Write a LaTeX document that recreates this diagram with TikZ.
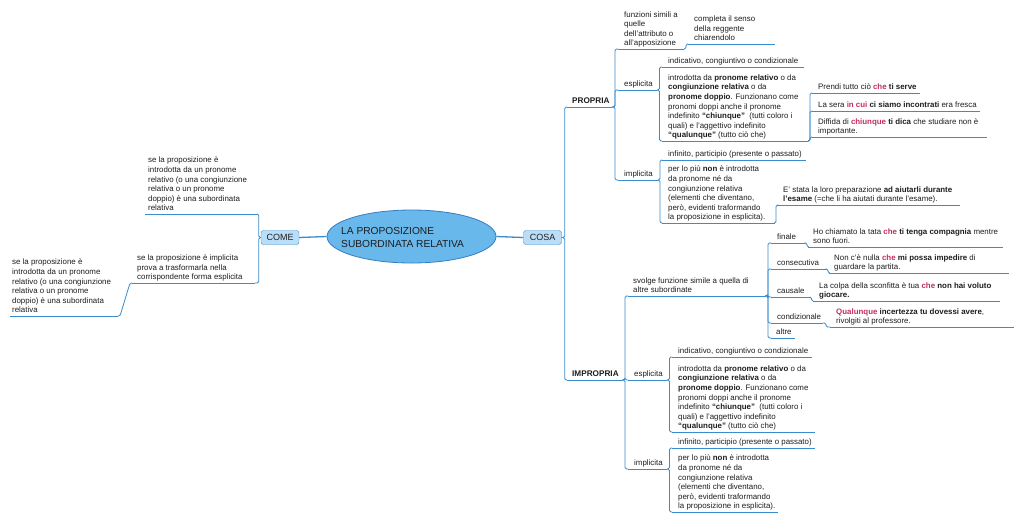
\documentclass[tikz,border=0pt]{standalone}
\usepackage{fontspec}
\setmainfont{Liberation Sans}
\usetikzlibrary{shapes.geometric,calc}
\definecolor{lnk}{RGB}{58,140,205}
\definecolor{hl}{RGB}{196,45,95}
\definecolor{ink}{RGB}{30,30,30}
\definecolor{ellfill}{RGB}{104,184,236}
\definecolor{ellline}{RGB}{55,125,195}
\definecolor{boxfill}{RGB}{186,222,247}
\newcommand\tf{\fontsize{7.9}{9.6}\selectfont}
\newcommand\tfb{\fontsize{8.2}{9.6}\selectfont\bfseries}
\newcommand\rd[1]{\textcolor{hl}{\textbf{#1}}}
\begin{document}
\begin{tikzpicture}[x=1pt,y=-1pt,
  uline/.style={draw=lnk, line width=0.8pt},
  topic/.style={anchor=south west, inner xsep=6pt, inner ysep=0pt, align=left,
    font=\tf, text=ink, execute at end node=\strut,
    append after command={(\tikzlastnode.south west) edge[uline] ($(\tikzlastnode.south west)+(#1,0)$)}},
  conn/.style={draw=lnk, line width=0.8pt, rounded corners=1.5pt},
  catbox/.style={draw=lnk, fill=boxfill, rounded corners=2.5pt, minimum width=38pt,
    minimum height=14pt, inner sep=0pt, font=\fontsize{9}{11}\selectfont, text=ink},
]
\useasboundingbox[fill=white] (0,0) rectangle (1024,523);

% centre
\node[ellipse, draw=ellline, fill=ellfill, line width=0.8pt, minimum width=169pt,
  minimum height=53pt, inner sep=0pt] (center) at (411.5,236.5) {};
\node[anchor=west, align=left, font=\fontsize{10.2}{12.5}\selectfont, text=ink, inner sep=0pt]
  (ctitle) at (341,237.5) {LA PROPOSIZIONE\\SUBORDINATA RELATIVA};
\node[catbox] (come) at (280,237.5) {COME};
\node[catbox] (cosa) at (542.5,237.5) {COSA};
\draw[draw=lnk, line width=1.3pt] (center.west) -- (come.east);
\draw[draw=lnk, line width=1.3pt] (center.east) -- (cosa.west);

% COME side
\node[topic=112,inner xsep=3pt] (c1) at (145,214) {se la proposizione è\\introdotta da un pronome\\relativo (o una congiunzione\\relativa o un pronome\\doppio) è una subordinata\\relativa};
\node[topic=123,inner xsep=5pt] (c2) at (132,283) {se la proposizione è implicita\\prova a trasformarla nella\\corrispondente forma esplicita};
\node[topic=108,inner xsep=2pt] (c3) at (10,316) {se la proposizione è\\introdotta da un pronome\\relativo (o una congiunzione\\relativa o un pronome\\doppio) è una subordinata\\relativa};
\coordinate (c1end) at ($(c1.south west)+(112,0)$);
\coordinate (c2end) at ($(c2.south west)+(123,0)$);
\coordinate (c3end) at ($(c3.south west)+(108,0)$);
\draw[conn] (come.west) -- ++(-2,0) |- (c1end);
\draw[conn] (come.west) -- ++(-2,0) |- (c2end);
\draw[conn] (c2.south west) -- ++(-2,0) -- ([xshift=2pt]c3end) -- (c3end);

% PROPRIA
\node[topic=45,inner xsep=5pt,font=\tfb] (propria) at (567,107) {PROPRIA};
\coordinate (propriaend) at (612,107);
\node[topic=66] (p1) at (618,49) {funzioni simili a\\quelle\\dell’attributo o\\all’apposizione};
\coordinate (p1end) at (684,49);
\node[topic=87] (p1a) at (688,44) {completa il senso\\della reggente\\chiarendolo};
\node[topic=39] (p2) at (618,90) {esplicita};
\coordinate (p2end) at (657,90);
\node[topic=142] (p2a) at (662,67) {indicativo, congiuntivo o condizionale};
\node[topic=146] (p2b) at (662,141) {introdotta da \textbf{pronome relativo} o da\\\textbf{congiunzione relativa} o da\\\textbf{pronome doppio}. Funzionano come\\pronomi doppi anche il pronome\\indefinito \textbf{“chiunque”}~~(tutti coloro i\\quali) e l’aggettivo indefinito\\\textbf{“qualunque”} (tutto ciò che)};
\coordinate (p2bend) at (808,141);
\node[topic=108] (p2b1) at (812,93) {Prendi tutto ciò \rd{che} \textbf{ti serve}};
\node[topic=168] (p2b2) at (812,111) {La sera \rd{in cui} \textbf{ci siamo incontrati} era fresca};
\node[topic=175] (p2b3) at (812,137) {Diffida di \rd{chiunque} \textbf{ti dica} che studiare non è\\importante.};
\node[topic=40] (p3) at (618,180) {implicita};
\coordinate (p3end) at (658,180);
\node[topic=144] (p3a) at (662,160) {infinito, participio (presente o passato)};
\node[topic=113] (p3b) at (662,223) {per lo più \textbf{non} è introdotta\\da pronome né da\\congiunzione relativa\\(elementi che diventano,\\però, evidenti traformando\\la proposizione in esplicita).};
\coordinate (p3bend) at (775,223);
\node[topic=183] (p3b1) at (777,205) {E’ stata la loro preparazione \textbf{ad aiutarli durante}\\\textbf{l’esame} (=che li ha aiutati durante l’esame).};

\draw[conn] (cosa.east) -- ++(3,0) |- (propria.south west);
\draw[conn] (propriaend) -- ++(3,0) |- (p1.south west);
\draw[conn] (propriaend) -- ++(3,0) |- (p2.south west);
\draw[conn] (propriaend) -- ++(3,0) |- (p3.south west);
\draw[conn] (p1end) -- ++(2,0) |- (p1a.south west);
\draw[conn] (p2end) -- ++(2.5,0) |- (p2a.south west);
\draw[conn] (p2end) -- ++(2.5,0) |- (p2b.south west);
\draw[conn] (p2bend) -- ++(2,0) |- (p2b1.south west);
\draw[conn] (p2bend) -- ++(2,0) |- (p2b2.south west);
\draw[conn] (p2bend) -- ++(2,0) |- (p2b3.south west);
\draw[conn] (p3end) -- ++(2,0) |- (p3a.south west);
\draw[conn] (p3end) -- ++(2,0) |- (p3b.south west);
\draw[conn] (p3bend) -- ++(1,0) |- (p3b1.south west);

% IMPROPRIA
\node[topic=55,inner xsep=5pt,font=\tfb] (impropria) at (567,380) {IMPROPRIA};
\coordinate (improend) at (622,380);
\node[topic=137,inner xsep=5pt] (i1) at (628,296) {svolge funzione simile a quella di\\altre subordinate};
\coordinate (i1end) at (765,296);
\node[topic=35] (fin) at (771,243) {finale};
\coordinate (finend) at (806,243);
\node[topic=195,inner xsep=5pt] (fin1) at (808,247) {Ho chiamato la tata \rd{che} \textbf{ti tenga compagnia} mentre\\sono fuori.};
\node[topic=56] (cons) at (771,269) {consecutiva};
\coordinate (consend) at (827,269);
\node[topic=180,inner xsep=5pt] (cons1) at (829,273) {Non c’è nulla \rd{che} \textbf{mi possa impedire} di\\guardare la partita.};
\node[topic=39] (caus) at (771,297) {causale};
\coordinate (causend) at (810,297);
\node[topic=187] (caus1) at (813,301) {La colpa della sconfitta è tua \rd{che} \textbf{non hai voluto}\\\textbf{giocare.}};
\node[topic=52] (cond) at (771,323) {condizionale};
\coordinate (condend) at (823,323);
\node[topic=184] (cond1) at (830,327) {\rd{Qualunque} \textbf{incertezza tu dovessi avere},\\rivolgiti al professore.};
\node[topic=24,inner xsep=5pt] (altre) at (771,338) {altre};
\node[topic=39] (i2) at (628,380) {esplicita};
\coordinate (i2end) at (667,380);
\node[topic=140] (i2a) at (672,357) {indicativo, congiuntivo o condizionale};
\node[topic=143] (i2b) at (672,432) {introdotta da \textbf{pronome relativo} o da\\\textbf{congiunzione relativa} o da\\\textbf{pronome doppio}. Funzionano come\\pronomi doppi anche il pronome\\indefinito \textbf{“chiunque”}~~(tutti coloro i\\quali) e l’aggettivo indefinito\\\textbf{“qualunque”} (tutto ciò che)};
\node[topic=39] (i3) at (628,469) {implicita};
\coordinate (i3end) at (667,469);
\node[topic=143] (i3a) at (672,448) {infinito, participio (presente o passato)};
\node[topic=106] (i3b) at (672,512) {per lo più \textbf{non} è introdotta\\da pronome né da\\congiunzione relativa\\(elementi che diventano,\\però, evidenti traformando\\la proposizione in esplicita).};

\draw[conn] (cosa.east) -- ++(3,0) |- (impropria.south west);
\draw[conn] (improend) -- ++(3,0) |- (i1.south west);
\draw[conn] (improend) -- ++(3,0) |- (i2.south west);
\draw[conn] (improend) -- ++(3,0) |- (i3.south west);
\draw[conn] (i1end) -- ++(3,0) |- (fin.south west);
\draw[conn] (i1end) -- ++(3,0) |- (cons.south west);
\draw[conn] (i1end) -- ++(3,0) |- (caus.south west);
\draw[conn] (i1end) -- ++(3,0) |- (cond.south west);
\draw[conn] (i1end) -- ++(3,0) |- (altre.south west);
\draw[conn] (finend) -- ++(1,0) |- (fin1.south west);
\draw[conn] (consend) -- ++(1,0) |- (cons1.south west);
\draw[conn] (causend) -- ++(1.5,0) |- (caus1.south west);
\draw[conn] (condend) -- ++(3,0) |- (cond1.south west);
\draw[conn] (i2end) -- ++(2.5,0) |- (i2a.south west);
\draw[conn] (i2end) -- ++(2.5,0) |- (i2b.south west);
\draw[conn] (i3end) -- ++(2.5,0) |- (i3a.south west);
\draw[conn] (i3end) -- ++(2.5,0) |- (i3b.south west);
\end{tikzpicture}
\end{document}
